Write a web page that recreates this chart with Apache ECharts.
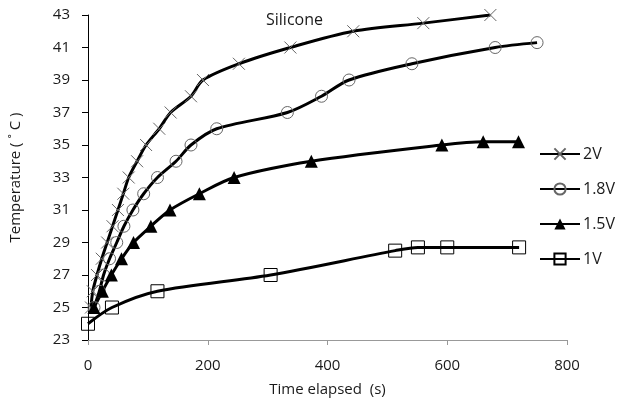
<!DOCTYPE html>
<html>
<head>
<meta charset="utf-8">
<script src="https://cdn.jsdelivr.net/npm/echarts@6/dist/echarts.min.js"></script>
<style>
  html, body { margin: 0; padding: 0; background: #fff; }
  #main { width: 618px; height: 405px; }
</style>
</head>
<body>
<div id="main"></div>
<script>
// time (s) / temperature (C)
var t2V = [5, 8, 15, 23, 32, 41, 50, 59, 68, 82, 97, 119, 138, 172, 192, 252, 338, 443, 560, 672];
var v2V = [25, 26, 27, 28, 29, 30, 31, 32, 33, 34, 35, 36, 37, 38, 39, 40, 41, 42, 42.5, 43];

var t18V = [10, 19, 26, 36, 48, 60, 75, 93, 116, 147, 172, 215, 333, 390, 436, 541, 680, 750];
var v18V = [25, 26, 27, 28, 29, 30, 31, 32, 33, 34, 35, 36, 37, 38, 39, 40, 41, 41.3];

var t15V = [10, 24, 39, 56, 76, 105, 137, 186, 244, 373, 591, 660, 719];
var v15V = [25, 26, 27, 28, 29, 30, 31, 32, 33, 34, 35, 35.2, 35.2];

var t1V = [0, 40, 116, 305, 513, 551, 600, 720];
var v1V = [24, 25, 26, 27, 28.5, 28.7, 28.7, 28.7];

var font = '"Open Sans", "DejaVu Sans", sans-serif';
var crossPath = 'path://M0,0L10,10M10,0L0,10';

function pairs(xs, ys) {
  return xs.map(function (x, i) { return [x, ys[i]]; });
}

function makeSeries(name, xs, ys, symbol, size, itemStyle) {
  return {
    name: name,
    type: 'line',
    data: pairs(xs, ys),
    smooth: 0.3,
    symbol: symbol,
    symbolSize: size,
    showAllSymbol: true,
    lineStyle: { color: '#000', width: 3 },
    itemStyle: itemStyle,
    emphasis: { disabled: true }
  };
}

var chart = echarts.init(document.getElementById('main'));
var option = {
  animation: false,
  backgroundColor: '#fff',
  grid: { left: 87, right: 51, top: 15, bottom: 65 },
  legend: {
    orient: 'vertical',
    left: 534,
    top: 141,
    itemWidth: 40,
    itemHeight: 14,
    itemGap: 19,
    textStyle: { fontFamily: font, fontSize: 16, color: '#1a1a1a', padding: [0, 0, 0, -2] },
    data: ['2V', '1.8V', '1.5V', '1V']
  },
  xAxis: {
    type: 'value',
    min: 0,
    max: 800,
    interval: 200,
    name: 'Time elapsed  (s)',
    nameLocation: 'middle',
    nameGap: 42,
    nameTextStyle: { fontFamily: font, fontSize: 15, color: '#1a1a1a' },
    axisLine: { lineStyle: { color: '#999', width: 1 } },
    axisTick: { show: true, inside: false, length: 5, lineStyle: { color: '#999' } },
    axisLabel: { fontFamily: font, fontSize: 15, color: '#1a1a1a', margin: 18 },
    splitLine: { show: false }
  },
  yAxis: {
    type: 'value',
    min: 23,
    max: 43,
    interval: 2,
    name: 'Temperature ( ˚ C )',
    nameLocation: 'middle',
    nameGap: 65,
    nameTextStyle: { fontFamily: font, fontSize: 15, color: '#1a1a1a' },
    axisLine: { show: true, lineStyle: { color: '#000', width: 1 } },
    axisTick: { show: true, length: 6, lineStyle: { color: '#000' } },
    axisLabel: { fontFamily: font, fontSize: 15, color: '#1a1a1a', margin: 18 },
    splitLine: { show: false }
  },
  graphic: [{
    type: 'text',
    left: 266,
    top: 12,
    style: { text: 'Silicone', font: '16px ' + font, fill: '#1a1a1a' }
  }],
  series: [
    makeSeries('2V', t2V, v2V, crossPath, 12,
      { color: 'transparent', borderColor: '#666', borderWidth: 1 }),
    makeSeries('1.8V', t18V, v18V, 'circle', 12,
      { color: 'transparent', borderColor: '#666', borderWidth: 1 }),
    makeSeries('1.5V', t15V, v15V, 'triangle', 13,
      { color: '#000', borderColor: '#000', borderWidth: 0 }),
    makeSeries('1V', t1V, v1V, 'rect', 13,
      { color: 'transparent', borderColor: '#000', borderWidth: 1 })
  ]
};
option && chart.setOption(option);
</script>
</body>
</html>
